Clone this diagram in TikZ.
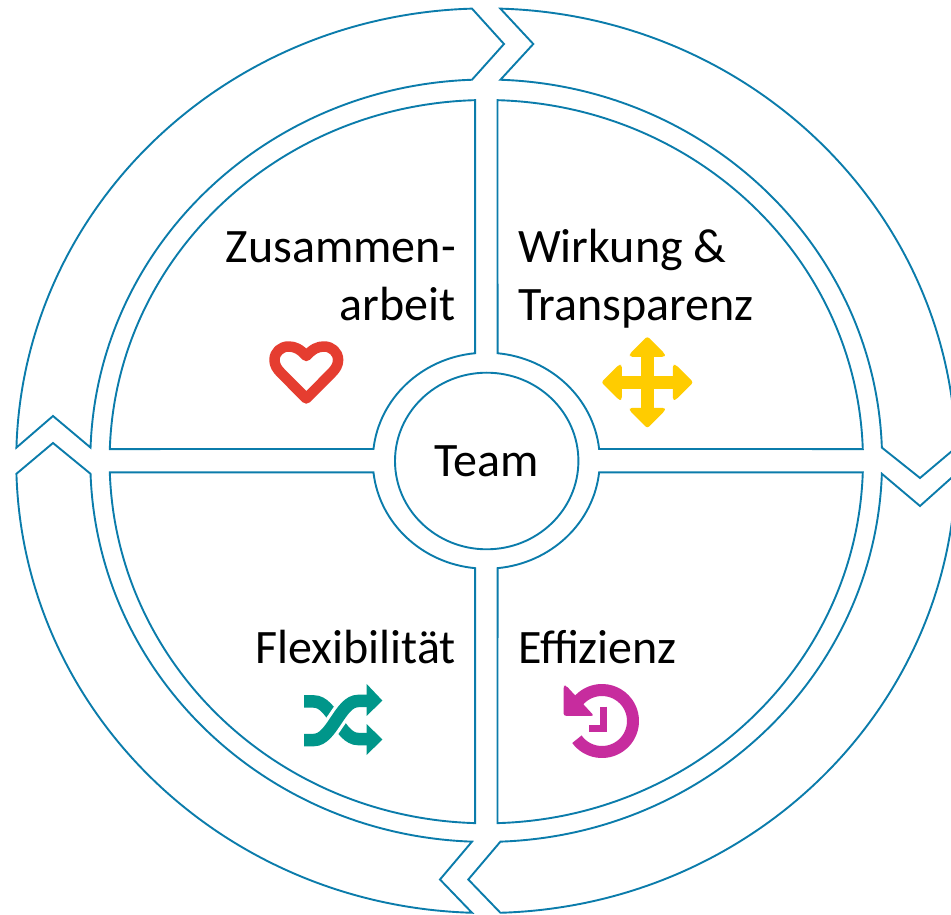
\documentclass[tikz,border=0pt]{standalone}
\usepackage{fontspec}
\setmainfont{Carlito}
\usetikzlibrary{shapes.geometric}
\definecolor{ringblue}{HTML}{0B7CAB}
\definecolor{heartred}{HTML}{E53D30}
\definecolor{moveyellow}{HTML}{FFCC00}
\definecolor{shuffleteal}{HTML}{00968A}
\definecolor{clockpink}{HTML}{C72C9E}
\tikzset{
  outline/.style={draw=ringblue,line width=1.9pt,line join=miter,fill=white},
  label text/.style={font=\fontsize{48}{58}\selectfont,text=black,inner sep=0pt},
  arc out/.style={x radius=470pt,y radius=452.3pt},
  arc in/.style={x radius=395.9pt,y radius=381.2pt},
  qarc in/.style={x radius=113.5pt,y radius=108pt},
  icon px/.style={x=1pt,y=-1pt,shift={(0pt,914pt)}},
}
\begin{document}
\begin{tikzpicture}[x=1pt,y=1pt]
\useasboundingbox (0,0) rectangle (951,914);
\clip (0,0) rectangle (951,914);
% outer ring of four arrows
\begin{scope}[shift={(486.2pt,453.3pt)}]
\draw[outline] (178.34:470pt and 452.3pt) -- (-433.2,44.7) -- (178.03:395.9pt and 381.2pt)
  arc[start angle=178.03,end angle=92.06,arc in] -- (17.8,416.7) -- (91.73:470pt and 452.3pt)
  arc[start angle=91.73,end angle=178.34,arc out] -- cycle;
\draw[outline] (88.27:470pt and 452.3pt) -- (47.1,416.7) -- (87.94:395.9pt and 381.2pt)
  arc[start angle=87.94,end angle=1.97,arc in] -- (433.8,-17.3) -- (1.66:470pt and 452.3pt)
  arc[start angle=1.66,end angle=88.27,arc out] -- cycle;
\draw[outline] (-1.97:395.9pt and 381.2pt) -- (433.8,-45.3) -- (-1.66:470pt and 452.3pt)
  arc[start angle=-1.66,end angle=-88.27,arc out] -- (-17.9,-418.8) -- (-87.94:395.9pt and 381.2pt)
  arc[start angle=-87.94,end angle=-1.97,arc in] -- cycle;
\draw[outline] (-91.73:470pt and 452.3pt) -- (-46.2,-418.8) -- (-92.06:395.9pt and 381.2pt)
  arc[start angle=-92.06,end angle=-178.03,arc in] -- (-433.2,17.7) -- (-178.34:470pt and 452.3pt)
  arc[start angle=-178.34,end angle=-91.73,arc out] -- cycle;
\end{scope}
% four quadrants
\foreach \sx/\sy/\qr in {1/1/360.7,-1/1/360.7,1/-1/362.6,-1/-1/362.6}{
\begin{scope}[shift={(486.3pt,453.3pt)},xscale=\sx,yscale=\sy]
\draw[outline] (6.22:113.5pt and 108pt) -- (1.85:376.7pt and \qr pt)
  arc[start angle=1.85,end angle=88.29,x radius=376.7pt,y radius=\qr pt] -- (84.31:113.5pt and 108pt)
  arc[start angle=84.31,end angle=6.22,qarc in] -- cycle;
\end{scope}}
% centre
\node[outline,ellipse,minimum width=183.4pt,minimum height=176.6pt,inner sep=0pt,
  label text,text height=32pt,text depth=0pt] (team) at (486.7,453) {Team};
% labels
\node[label text,anchor=base east,align=right] (zus) at (456,593) {Zusammen-\\arbeit};
\node[label text,anchor=base west,align=left] (wir) at (518,593) {Wirkung \&\\Transparenz};
\node[label text,anchor=base east] (fle) at (456,250) {Flexibilität};
\node[label text,anchor=base west] (eff) at (518,250) {Effizienz};
% heart
\begin{scope}[icon px]
\draw[heartred,line width=10.5pt,line join=round]
  (306.3,398.5) -- (281,373) .. controls (277,369) and (274.5,365) .. (274.5,360)
  .. controls (274.5,352) and (281,346.5) .. (288.5,346.5)
  .. controls (295,346.5) and (300,349) .. (306.3,356)
  .. controls (312.6,349) and (317.6,346.5) .. (324.1,346.5)
  .. controls (331.6,346.5) and (338.1,352) .. (338.1,360)
  .. controls (338.1,365) and (335.6,369) .. (331.6,373) -- cycle;
\end{scope}
% four-way arrow
\begin{scope}[shift={(647.3pt,531.7pt)}]
\fill[moveyellow] (-6.7,-30) rectangle (6.7,30);
\fill[moveyellow] (-30,-6.7) rectangle (30,6.7);
\foreach \a in {0,90,180,270}
  \fill[moveyellow,rotate=\a,rounded corners=2.5pt]
    (-6.7,25.5) -- (-17.5,25.5) -- (-17.5,28.5) -- (0,46) -- (17.5,28.5) -- (17.5,25.5) -- (6.7,25.5) -- cycle;
\end{scope}
% shuffle
\begin{scope}[icon px]
\draw[shuffleteal,line width=12.5pt] (304,701.5) -- (314,701.5) .. controls (332,701.5) and (340,739) .. (358,739) -- (370,739);
\draw[white,line width=19pt] (314,740) .. controls (332,740) and (340,701) .. (358,701);
\draw[shuffleteal,line width=12.5pt] (304,740) -- (314,740) .. controls (332,740) and (340,701) .. (358,701) -- (370,701);
\fill[shuffleteal] (366.7,684) -- (382.3,700.5) -- (366.7,716) -- cycle;
\fill[shuffleteal] (366.7,724) -- (382.3,739.5) -- (366.7,755) -- cycle;
\end{scope}
% history clock
\begin{scope}[shift={(602pt,193pt)}]
\draw[clockpink,line width=12pt] (216:31pt) arc[start angle=216,end angle=500,radius=31pt];
\end{scope}
\begin{scope}[icon px]
\fill[clockpink,rounded corners=2.5pt] (566,685.5) -- (563.5,686) -- (563.5,715.8) -- (594,715.8) -- cycle;
\draw[clockpink,line width=6.5pt,line join=miter] (603.5,706.7) -- (603.5,728.4) -- (589,728.4);
\end{scope}
\end{tikzpicture}
\end{document}
